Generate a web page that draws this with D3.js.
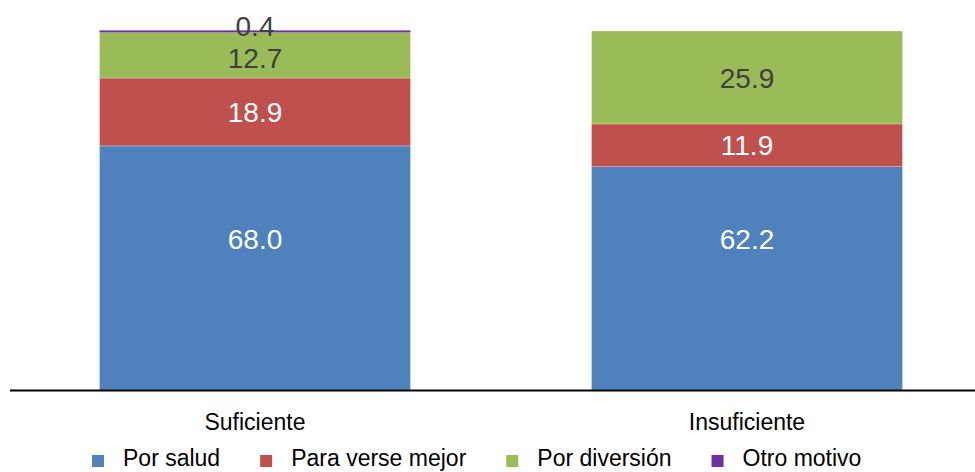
<!DOCTYPE html>
<html>
<head>
<meta charset="utf-8">
<script src="https://cdn.jsdelivr.net/npm/d3@7"></script>
<style>
  body { margin: 0; background: #fff; }
  text { font-family: "Liberation Sans", Arial, sans-serif; }
</style>
</head>
<body>
<script>
// datos
var categories = ["Suficiente", "Insuficiente"]
var seriesNames = ["Por salud", "Para verse mejor", "Por diversión", "Otro motivo"]
var porSalud = [68.0, 62.2]
var paraVerseMejor = [18.9, 11.9]
var porDiversion = [12.7, 25.9]
var otroMotivo = [0.4, 0]

var COLORS = ["#4F81BD", "#C0504D", "#9BBB59", "#7030A0"]
var LABELCOLORS = ["#ffffff", "#ffffff", "#404040", "#404040"]

WIDTH = 975
HEIGHT = 472

var values = [porSalud, paraVerseMejor, porDiversion, otroMotivo]
var rows = categories.map(function(c, i) {
  var row = {cat: c}
  seriesNames.forEach(function(s, j) { row[s] = values[j][i] })
  return row
})
var stacked = d3.stack().keys(seriesNames)(rows)

var svg = d3.select("body").append("svg")
  .attr("width", WIDTH).attr("height", HEIGHT)

var xScale = d3.scaleBand().domain(categories)
  .range([9, 993]).paddingInner(0.368).paddingOuter(0.184)
var yScale = d3.scaleLinear().domain([0, 100]).range([390, 31])

var layers = svg.selectAll("g.layer").data(stacked).enter().append("g")
  .attr("class", "layer")
  .attr("fill", function(d, i) { return COLORS[i] })

layers.selectAll("rect").data(function(d) { return d }).enter().append("rect")
  .attr("x", function(d) { return xScale(d.data.cat) })
  .attr("y", function(d) { return yScale(d[1]) - (yScale(d[0]) - yScale(d[1]) < 3 ? 0.6 : 0) })
  .attr("width", xScale.bandwidth())
  .attr("height", function(d) {
    var h = yScale(d[0]) - yScale(d[1])
    return h > 0 && h < 3 ? h + 0.6 : h
  })
  .attr("stroke", "#ffffff")
  .attr("stroke-opacity", function(d) { return yScale(d[0]) - yScale(d[1]) < 3 ? 0 : 0.4 })
  .attr("stroke-width", 0.6)

// etiquetas de datos
stacked.forEach(function(layer, i) {
  layer.forEach(function(d) {
    var v = d[1] - d[0]
    if (v <= 0) return
    var cy = (yScale(d[0]) + yScale(d[1])) / 2
    var h = yScale(d[0]) - yScale(d[1])
    if (i == 0) cy = Math.min(cy, yScale(42))
    else if (h < 5) cy -= 6
    else if (i == 2 && d.data[seriesNames[3]] > 0) cy += 3
    svg.append("text")
      .attr("x", xScale(d.data.cat) + xScale.bandwidth() / 2)
      .attr("y", cy)
      .attr("dy", "0.36em")
      .attr("text-anchor", "middle")
      .attr("font-size", 28)
      .attr("fill", LABELCOLORS[i])
      .text(v.toFixed(1))
  })
})

// eje
svg.append("line")
  .attr("x1", 10).attr("x2", WIDTH)
  .attr("y1", yScale(0) + 0.5).attr("y2", yScale(0) + 0.5)
  .attr("stroke", "#000").attr("stroke-width", 2)

svg.selectAll("text.cat").data(categories).enter().append("text")
  .attr("class", "cat")
  .attr("x", function(d) { return xScale(d) + xScale.bandwidth() / 2 })
  .attr("y", 430)
  .attr("text-anchor", "middle")
  .attr("font-size", 23)
  .attr("fill", "#000")
  .text(function(d) { return d })

// leyenda
var lx = 92
seriesNames.forEach(function(s, i) {
  svg.append("rect")
    .attr("x", lx).attr("y", 455)
    .attr("width", 12).attr("height", 12)
    .attr("fill", COLORS[i])
  var t = svg.append("text")
    .attr("x", lx + 31).attr("y", 466)
    .attr("font-size", 23)
    .attr("fill", "#000")
    .text(s)
  lx = lx + 31 + t.node().getComputedTextLength() + 40
})
</script>
</body>
</html>
